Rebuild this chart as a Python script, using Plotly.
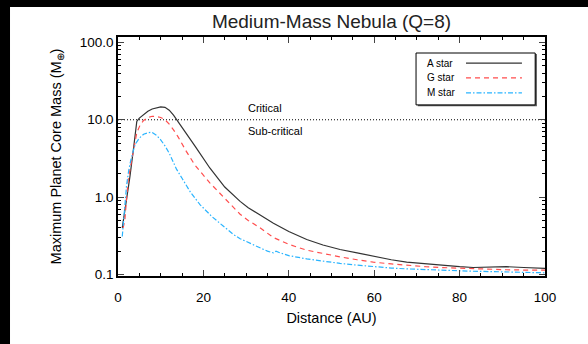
import math
import plotly.graph_objects as go

# ---- data ----
a_dist = [1.0, 1.5, 2.0, 2.8, 3.6, 4.4, 5.0, 6.0, 7.0, 8.0, 9.0, 10.0, 11.0, 12.0, 13.0, 14.0,
          16.0, 18.0, 21.5, 25.0, 28.6, 30.5, 33.0, 36.4, 40.0, 44.2, 48.0, 52.0, 56.0, 59.8,
          64.0, 67.6, 72.0, 75.4, 80.0, 83.2, 87.0, 91.0, 95.0, 98.8, 100.0]
a_mass = [0.40, 0.60, 0.84, 1.85, 4.1, 9.5, 10.5, 11.8, 12.9, 13.8, 14.4, 14.7, 14.5, 13.3, 11.5, 9.6,
          6.8, 4.6, 2.38, 1.35, 0.88, 0.73, 0.60, 0.46, 0.36, 0.283, 0.24, 0.21, 0.19, 0.172,
          0.155, 0.144, 0.137, 0.131, 0.126, 0.123, 0.124, 0.126, 0.123, 0.120, 0.120]

g_dist = [1.2, 1.6, 2.0, 2.4, 3.0, 3.6, 4.4, 5.2, 6.0, 7.0, 8.0, 9.0, 10.0, 11.0, 12.0, 13.0, 14.0,
          16.0, 18.0, 21.5, 25.0, 28.6, 30.5, 33.0, 36.4, 40.0, 44.2, 48.0, 52.0, 56.0, 59.8,
          64.0, 67.6, 72.0, 75.4, 80.0, 83.2, 87.0, 91.0, 95.0, 98.8, 100.0]
g_mass = [0.40, 0.50, 0.95, 1.68, 2.6, 4.1, 6.8, 8.6, 9.8, 10.7, 11.1, 11.0, 10.7, 10.0, 8.8, 7.4, 6.1,
          3.9, 2.6, 1.53, 0.95, 0.60, 0.50, 0.41, 0.30, 0.245, 0.206, 0.185, 0.169, 0.155, 0.144,
          0.137, 0.131, 0.126, 0.123, 0.120, 0.118, 0.116, 0.115, 0.114, 0.114, 0.114]

m_dist = [1.0, 1.5, 2.0, 2.5, 3.0, 4.0, 5.0, 6.0, 7.0, 7.9, 9.0, 10.0, 11.0, 12.0, 13.7, 15.0,
          17.0, 19.2, 22.0, 24.7, 27.0, 28.6, 30.5, 33.0, 35.0, 36.4, 37.0, 38.0, 40.0, 44.2,
          48.0, 52.0, 56.0, 59.8, 64.0, 67.6, 72.0, 75.4, 80.0, 83.2, 87.0, 91.0, 95.0, 98.8, 100.0]
m_mass = [0.31, 0.70, 1.4, 2.2, 3.0, 4.8, 5.8, 6.5, 6.8, 6.9, 6.3, 5.5, 4.6, 3.7, 2.3, 1.75,
          1.15, 0.80, 0.56, 0.42, 0.33, 0.29, 0.26, 0.225, 0.20, 0.19, 0.20, 0.19, 0.175, 0.159,
          0.148, 0.139, 0.132, 0.126, 0.121, 0.118, 0.115, 0.114, 0.111, 0.110, 0.109, 0.108,
          0.106, 0.105, 0.105]

critical_mass = 10.0
x_span = [0, 100]

series_names = ["A star", "G star", "M star"]
series_colors = ["#333333", "#ff4d4d", "#2ab4ff"]
series_dashes = ["solid", "5px,4px", "5px,2px,1.5px,2px"]

region_labels = ["Critical", "Sub-critical"]
region_label_x = 30
region_label_y = [14.3, 7.2]

y_tickvals = [0.1, 1, 10, 100]
y_ticktext = ["0.1", "1.0", "10.0", "100.0"]
x_tickvals = [0, 20, 40, 60, 80, 100]

FONT = "Liberation Sans, Arial, Helvetica, sans-serif"

fig = go.Figure()

fig.add_trace(go.Scatter(x=x_span, y=[critical_mass, critical_mass], mode="lines",
                         line=dict(color="black", width=1, dash="1px,2px"),
                         showlegend=False, hoverinfo="skip"))

for xs, ys, name, col, dsh in zip([a_dist, g_dist, m_dist], [a_mass, g_mass, m_mass],
                                  series_names, series_colors, series_dashes):
    fig.add_trace(go.Scatter(x=xs, y=ys, mode="lines", name=name,
                             line=dict(color=col, width=1.2, dash=dsh)))

# annotations on a log axis take log10 positions
for txt, yv in zip(region_labels, region_label_y):
    fig.add_annotation(x=region_label_x, y=math.log10(yv), text=txt, showarrow=False,
                       xanchor="left", yanchor="middle",
                       font=dict(size=11, color="black", family=FONT))

# black frame strips at left and top of the page
fig.add_shape(type="rect", xref="paper", yref="paper", x0=-0.3, x1=-0.2529, y0=-0.4, y1=1.3,
              fillcolor="black", line=dict(width=0), layer="below")
fig.add_shape(type="rect", xref="paper", yref="paper", x0=-0.3, x1=1.2, y0=1.1253, y1=1.3,
              fillcolor="black", line=dict(width=0), layer="below")

# legend box (text left, line sample right)
fig.add_shape(type="rect", xref="paper", yref="paper", x0=0.702, x1=0.981, y0=0.710, y1=0.929,
              fillcolor="#555555", line=dict(width=0))
fig.add_shape(type="rect", xref="paper", yref="paper", x0=0.698, x1=0.977, y0=0.716, y1=0.933,
              fillcolor="white", line=dict(color="black", width=1))
legend_rows = [0.891, 0.829, 0.766]
for yrow, name, col, dsh in zip(legend_rows, series_names, series_colors, series_dashes):
    fig.add_shape(type="line", xref="paper", yref="paper", x0=0.815, x1=0.946, y0=yrow, y1=yrow,
                  line=dict(color=col, width=1.2, dash=dsh))
    fig.add_annotation(xref="paper", yref="paper", x=0.719, y=yrow, text=name, showarrow=False,
                       xanchor="left", yanchor="middle",
                       font=dict(size=10, color="black", family=FONT))

fig.update_layout(
    width=588, height=344,
    margin=dict(l=118, r=43, t=37, b=67.5),
    paper_bgcolor="white", plot_bgcolor="white",
    font=dict(family=FONT, color="black", size=13),
    title=dict(text="Medium-Mass Nebula (Q=8)", x=0.5, xref="paper", xanchor="center",
               y=1 - 21 / 344, yanchor="middle", font=dict(size=19, color="#222222", family=FONT)),
    showlegend=False,
)

fig.update_xaxes(range=[0, 100], tickvals=x_tickvals, ticks="inside", ticklen=6, tickwidth=1,
                 showline=True, linecolor="black", linewidth=1.5, mirror="ticks",
                 showgrid=False, zeroline=False, ticklabelstandoff=8,
                 minor=dict(ticks="inside", ticklen=3, dtick=5, tickcolor="black", showgrid=False),
                 title=dict(text="Distance (AU)", font=dict(size=14.5, family=FONT), standoff=9),
                 tickfont=dict(size=13.5, family=FONT))

fig.update_yaxes(type="log", range=[-1.02, 2.07], tickvals=y_tickvals, ticktext=y_ticktext,
                 ticks="inside", ticklen=6, tickwidth=1,
                 showline=True, linecolor="black", linewidth=1.5, mirror="ticks",
                 showgrid=False, zeroline=False,
                 minor=dict(ticks="inside", ticklen=3, dtick="D1", tickcolor="black", showgrid=False),
                 title=dict(text="Maximum Planet Core Mass (M<sub>⊕</sub>)",
                            font=dict(size=14.5, family=FONT), standoff=15),
                 tickfont=dict(size=13.5, family=FONT))

fig.write_html(
    "out.html", config={"displayModeBar": False},
    post_script=("document.documentElement.style.overflow='hidden';"
                 "document.documentElement.style.background='white';"
                 "document.body.style.background='white';"
                 "document.body.style.margin='0';document.body.style.overflow='hidden';"
                 "var g=document.getElementById('{plot_id}');"
                 "g.style.position='fixed';g.style.left='0px';g.style.top='0px';"),
)
